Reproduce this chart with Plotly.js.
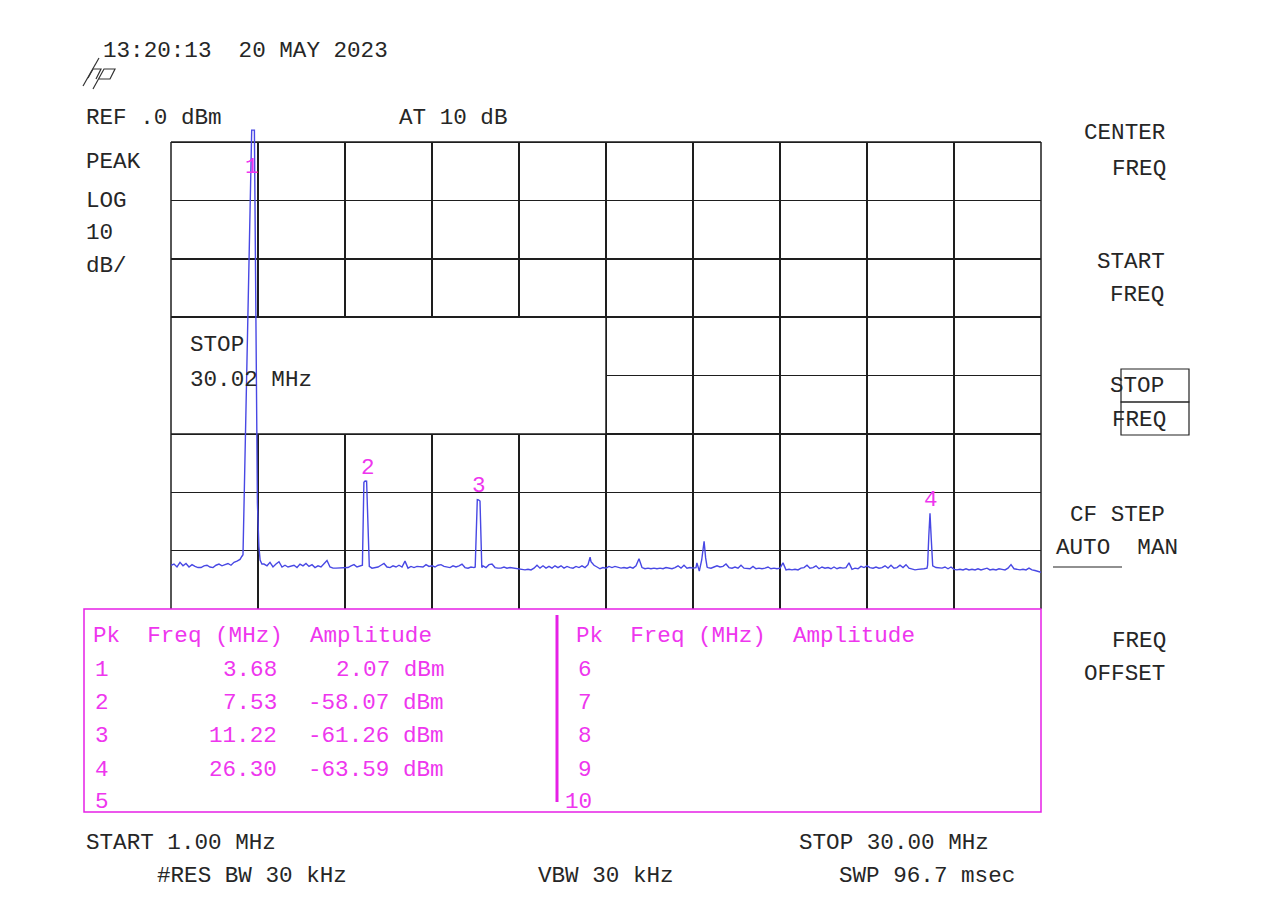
<!DOCTYPE html>
<html>
<head>
<meta charset="utf-8">
<script src="https://cdn.plot.ly/plotly-3.0.1.min.js"></script>
<style>html,body{margin:0;padding:0;background:#fff;}#chart{width:1269px;height:920px;}</style>
</head>
<body>
<div id="chart"></div>
<script>
// ---------------- DATA ----------------
const freqMHz = [
  1.0,1.1,1.2,1.3,1.4,1.5,1.6,1.7,1.8,1.9,2.0,2.1,2.2,2.3,2.4,2.5,2.6,2.7,2.8,2.9,3.0,3.1,3.2,3.3,
  3.36,3.40,3.69,3.78,3.88,3.90,3.93,3.97,4.03,
  4.1,4.2,4.3,4.4,4.5,4.6,4.7,4.8,4.9,5.0,5.1,5.2,5.3,5.4,5.5,5.6,5.7,5.8,5.9,6.0,6.1,6.2,6.3,6.4,6.5,6.6,6.7,6.8,6.9,7.0,7.1,7.2,7.3,
  7.38,7.43,7.47,7.52,7.61,
  7.7,7.8,7.9,8.0,8.1,8.2,8.3,8.4,8.5,8.6,8.7,8.8,8.9,9.0,9.1,9.2,9.3,9.4,9.5,9.6,9.7,9.8,9.9,10.0,10.1,10.2,10.3,10.4,10.5,10.6,10.7,10.8,10.9,11.0,11.1,
  11.14,11.21,11.25,11.30,11.36,
  11.4,11.5,11.6,11.7,11.8,11.9,12.0,12.1,12.2,12.3,12.4,12.5,12.6,12.7,12.8,12.9,13.0,13.1,13.2,13.3,13.4,13.5,13.6,13.7,13.8,13.9,14.0,14.1,14.2,14.3,14.4,14.5,14.6,14.7,14.8,14.9,
  14.97,
  15.0,15.1,15.2,15.3,15.4,15.5,
  15.6,15.7,15.8,15.9,16.0,16.1,16.2,16.3,16.4,16.5,16.6,16.7,16.8,16.9,17.0,17.1,17.2,17.3,17.4,17.5,17.6,17.7,17.8,17.9,18.0,18.1,18.2,18.3,18.4,18.5,
  18.53,18.61,18.69,18.77,18.82,18.87,
  18.9,19.0,19.1,19.2,19.3,19.4,19.5,19.6,19.7,19.8,19.9,20.0,20.1,20.2,20.3,20.4,20.5,20.6,20.7,20.8,20.9,21.0,21.1,21.2,21.3,21.4,21.5,21.6,21.7,21.8,
  21.9,22.0,22.1,22.2,22.3,22.4,22.5,22.6,22.7,22.8,22.9,23.0,23.1,23.2,23.3,23.4,23.5,23.6,23.7,23.8,23.9,24.0,24.1,24.2,24.3,24.4,24.5,24.6,24.7,24.8,
  24.9,25.0,25.1,25.2,25.3,25.4,25.5,25.6,25.7,25.8,25.9,26.0,26.1,26.2,
  26.22,26.26,26.30,26.34,26.39,
  26.5,26.6,26.7,26.8,26.9,27.0,27.1,27.2,27.3,27.4,27.5,27.6,27.7,27.8,27.9,28.0,28.1,28.2,28.3,28.4,28.5,28.6,28.7,28.8,28.9,29.0,29.1,29.2,29.3,29.4,29.5,29.6,29.7,29.8,29.9,30.0
];
const levelDbm = [
  -72.5,-72.3,-72.8,-72.0,-72.6,-72.2,-72.8,-72.4,-72.7,-72.9,-72.9,-72.6,-72.5,-72.8,-72.9,-72.5,-72.3,-72.6,-72.4,-72.2,-72.5,-72.0,-71.8,-71.5,
  -71.0,-70.7,2.07,2.07,-61.8,-66.5,-69.3,-71.6,-72.3,
  -72.3,-72.6,-72.0,-72.8,-72.3,-71.9,-72.8,-72.5,-72.8,-72.6,-72.5,-72.9,-72.3,-72.6,-72.2,-72.7,-72.4,-72.9,-72.6,-72.8,-72.3,-71.7,-72.8,-73.0,-73.0,-73.0,-72.9,-73.0,-72.9,-72.6,-72.4,-72.8,-72.7,
  -72.5,-58.3,-58.07,-58.1,-72.7,
  -73.0,-72.9,-72.8,-72.5,-72.2,-72.8,-72.9,-72.6,-72.8,-72.5,-72.8,-71.8,-73.0,-72.7,-72.9,-72.7,-72.8,-72.8,-72.4,-72.7,-72.6,-72.8,-72.5,-72.4,-72.7,-72.8,-72.9,-72.6,-72.8,-72.6,-72.3,-72.9,-73.0,-72.8,-72.9,
  -72.8,-61.26,-61.3,-61.5,-72.9,
  -72.6,-72.9,-72.4,-72.3,-72.9,-73.0,-73.0,-72.8,-73.0,-72.9,-73.0,-73.0,-73.2,-73.3,-73.3,-73.2,-73.3,-73.0,-72.5,-73.0,-72.6,-73.0,-72.7,-73.0,-72.6,-72.9,-72.6,-73.0,-72.7,-72.9,-73.0,-72.7,-72.9,-72.6,-72.9,-72.4,
  -71.1,
  -71.9,-72.5,-72.8,-73.1,-72.9,-73.0,
  -72.7,-72.9,-72.7,-72.9,-73.0,-72.9,-73.0,-72.8,-73.0,-72.6,-71.4,-72.9,-73.1,-73.0,-73.1,-73.0,-73.1,-73.0,-73.1,-72.9,-73.0,-73.1,-72.9,-72.6,-73.0,-72.5,-73.0,-72.9,-73.0,-72.9,
  -72.1,-73.5,-71.6,-68.4,-71.2,-72.8,
  -72.9,-73.0,-72.8,-72.6,-72.8,-72.7,-72.3,-72.9,-73.0,-72.8,-73.0,-72.5,-73.0,-73.0,-73.1,-72.7,-73.1,-73.0,-73.1,-73.0,-72.8,-73.1,-73.0,-73.1,-73.0,-72.1,-73.3,-73.2,-73.3,-73.2,
  -73.3,-73.0,-72.9,-72.5,-73.0,-72.9,-72.6,-73.1,-72.8,-73.0,-72.9,-73.1,-72.8,-73.1,-72.9,-73.0,-72.9,-72.1,-73.2,-73.0,-73.1,-72.7,-72.9,-72.6,-72.9,-73.0,-72.8,-73.0,-72.9,-72.6,
  -73.0,-72.5,-73.0,-72.9,-72.5,-72.9,-72.4,-73.0,-73.2,-73.3,-73.2,-73.2,-73.1,-73.0,
  -72.5,-67.5,-63.59,-67.8,-72.6,
  -72.9,-72.9,-73.0,-72.8,-73.1,-72.8,-73.2,-73.3,-73.2,-73.3,-73.1,-73.3,-73.2,-73.3,-73.1,-73.3,-73.2,-73.0,-73.3,-73.2,-73.3,-73.1,-73.2,-73.3,-73.0,-72.4,-73.1,-73.2,-73.3,-73.2,-73.3,-73.0,-73.3,-73.4,-73.5,-73.7
];

// marker table
const peakNo   = [1, 2, 3, 4];
const peakFreq = [3.68, 7.53, 11.22, 26.30];
const peakAmp  = [2.07, -58.07, -61.26, -63.59];
const emptyLeft  = [5];
const emptyRight = [6, 7, 8, 9, 10];

// instrument annotation texts
const timeStamp = "13:20:13\u00a0\u00a020 MAY 2023";
const refText = "REF .0 dBm";
const attenText = "AT 10 dB";
const leftLabels = ["PEAK", "LOG", "10", "dB/"];
const stopBoxText = ["STOP", "30.02 MHz"];
const softKeys = ["CENTER", "FREQ", "START", "FREQ", "STOP", "FREQ", "CF STEP", "AUTO\u00a0\u00a0MAN", "FREQ", "OFFSET"];
const footer = ["START 1.00 MHz", "STOP 30.00 MHz", "#RES BW 30 kHz", "VBW 30 kHz", "SWP 96.7 msec"];
const tableHeader = "Pk\u00a0\u00a0Freq (MHz)\u00a0\u00a0Amplitude";

// ---------------- LAYOUT ----------------
const L = 171, R = 1041, T = 127, B = 609;
const px = x => (x - L) / (R - L);
const py = y => (B - y) / (B - T);
const FONT = "Liberation Mono";
const FS = 22.6;
const INK = "#262626";
const MAG = "#ee36ee";
const MAGL = "#e620e6";
const GRID = "#1e1e1e";

const ann = [];
function txt(s, x, y, color, anchor) {
  ann.push({text: s, xref: "paper", yref: "paper", x: px(x), y: py(y),
    xanchor: anchor || "left", yanchor: "middle", showarrow: false,
    font: {family: FONT, size: FS, color: color || INK}});
}
txt(timeStamp, 101, 51);
txt(refText, 84, 118);
txt(attenText, 397, 118);
const leftY = [162, 201, 233, 266];
leftLabels.forEach((s, i) => txt(s, 84, leftY[i]));
txt(stopBoxText[0], 188, 345);
txt(stopBoxText[1], 188, 380);
const skX = [1082, 1110, 1095, 1108, 1108, 1110, 1068, 1054, 1110, 1082];
const skY = [133, 169, 262, 295, 386, 420, 515, 548, 641, 674];
softKeys.forEach((s, i) => txt(s, skX[i], skY[i]));
const ftX = [84, 797, 155, 536, 837];
const ftY = [843, 843, 876, 876, 876];
footer.forEach((s, i) => txt(s, ftX[i], ftY[i]));

// table
txt(tableHeader, 91, 636, MAG);
txt(tableHeader, 574, 636, MAG);
const rowY = [670, 703, 736, 770, 802];
peakNo.forEach((n, i) => {
  txt(String(n), 111, rowY[i], MAG, "right");
  txt(peakFreq[i].toFixed(2), 279, rowY[i], MAG, "right");
  txt(peakAmp[i].toFixed(2) + " dBm", 446, rowY[i], MAG, "right");
});
emptyLeft.forEach((n, i) => txt(String(n), 111, rowY[peakNo.length + i], MAG, "right"));
emptyRight.forEach((n, i) => txt(String(n), 594, rowY[i], MAG, "right"));

// marker numbers above peaks (data coords)
const labelShift = [-37, 13, 14, 13];
peakNo.forEach((n, i) => {
  ann.push({text: String(n), xref: "x", yref: "y", x: peakFreq[i], y: peakAmp[i],
    yshift: labelShift[i], xshift: 1, xanchor: "center", yanchor: "middle", showarrow: false,
    font: {family: FONT, size: FS, color: MAG}});
});

const P = (x, y) => px(x).toFixed(5) + "," + py(y).toFixed(5);
const shapes = [
  // hide grid stubs above the reference level
  {type: "rect", xref: "x", yref: "y", x0: 0, x1: 31, y0: 0.15, y1: 5, layer: "between",
   fillcolor: "#ffffff", line: {width: 0}},
  // STOP entry window
  {type: "rect", xref: "x", yref: "y", x0: 1, x1: 15.5, y0: -50, y1: -30, layer: "between",
   fillcolor: "#ffffff", line: {color: GRID, width: 1.5}},
  // graticule outer left / right edges
  {type: "line", xref: "paper", yref: "paper", x0: 0, x1: 0, y0: py(609), y1: py(142),
   layer: "between", line: {color: GRID, width: 1.5}},
  {type: "line", xref: "paper", yref: "paper", x0: 1, x1: 1, y0: py(609), y1: py(142),
   layer: "between", line: {color: GRID, width: 1.5}},
  // marker table frame
  {type: "rect", xref: "paper", yref: "paper", x0: px(84), x1: px(1041), y0: py(812), y1: py(609),
   layer: "above", line: {color: MAGL, width: 1.5}, fillcolor: "rgba(0,0,0,0)"},
  {type: "line", xref: "paper", yref: "paper", x0: px(557), x1: px(557), y0: py(802), y1: py(615),
   layer: "above", line: {color: MAGL, width: 3}},
  // active softkey boxes
  {type: "rect", xref: "paper", yref: "paper", x0: px(1121), x1: px(1189), y0: py(402), y1: py(369),
   line: {color: "#222", width: 1.2}},
  {type: "rect", xref: "paper", yref: "paper", x0: px(1121), x1: px(1189), y0: py(435), y1: py(402),
   line: {color: "#222", width: 1.2}},
  {type: "line", xref: "paper", yref: "paper", x0: px(1053), x1: px(1122), y0: py(567), y1: py(567),
   line: {color: "#222", width: 1.2}},
  // hp logo
  {type: "path", xref: "paper", yref: "paper", line: {color: "#333", width: 1.2},
   path: "M" + P(83, 86) + " L" + P(99, 58)},
  {type: "path", xref: "paper", yref: "paper", line: {color: "#333", width: 1.2},
   path: "M" + P(88, 78) + " L" + P(93, 69) + " L" + P(101, 69) + " L" + P(96, 79)},
  {type: "path", xref: "paper", yref: "paper", line: {color: "#333", width: 1.2},
   path: "M" + P(93, 89) + " L" + P(104, 69) + " L" + P(115, 69) + " L" + P(110, 79) + " L" + P(99, 79)}
];

const trace = {
  x: freqMHz, y: levelDbm, type: "scatter", mode: "lines",
  line: {color: "#4848e4", width: 1.4}, hoverinfo: "skip"
};

const layout = {
  width: 1269, height: 920, autosize: false,
  margin: {l: L, r: 1269 - R, t: T, b: 920 - B, pad: 0},
  paper_bgcolor: "#ffffff", plot_bgcolor: "#ffffff",
  showlegend: false, hovermode: false,
  xaxis: {range: [1, 30], tick0: 1, dtick: 2.9, showgrid: true, gridcolor: GRID, gridwidth: 1.5,
          zeroline: false, showline: false, showticklabels: false, ticks: "", fixedrange: true},
  yaxis: {range: [-80, 2.6], tick0: 0, dtick: 10, showgrid: true, gridcolor: GRID, gridwidth: 1.5,
          zeroline: false, showline: false, showticklabels: false, ticks: "", fixedrange: true},
  annotations: ann,
  shapes: shapes
};

Plotly.newPlot("chart", [trace], layout, {staticPlot: true, displayModeBar: false});
</script>
</body>
</html>
